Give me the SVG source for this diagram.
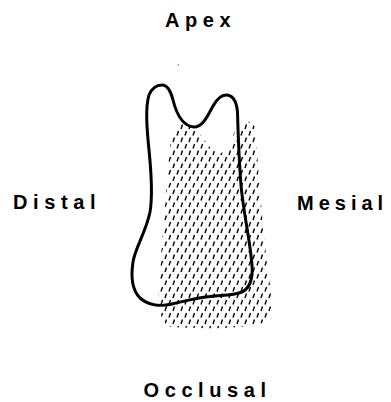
<svg xmlns="http://www.w3.org/2000/svg" width="391" height="402" viewBox="0 0 391 402">
  <style>
    .label { font-family: "Liberation Sans", Arial, sans-serif; font-weight: bold; font-size: 20px; letter-spacing: 5.6px; fill: #000; }
    .outline { fill: none; stroke: #000; stroke-width: 3; stroke-linejoin: round; stroke-linecap: round; }
    .dash { stroke: #000; stroke-width: 1.4; stroke-linecap: butt; }
  </style>
  <defs>
    <!-- slanted dash hatching -->
    <pattern id="hatch" patternUnits="userSpaceOnUse" width="8" height="13">
      <line class="dash" x1="1" y1="5.5" x2="2.5" y2="1"/>
      <line class="dash" x1="5" y1="12" x2="6.5" y2="7.5"/>
    </pattern>
  </defs>
  <rect width="391" height="402" fill="#fff"/>

  <!-- shaded (offset) region -->
  <g id="shadow">
    <path fill="url(#hatch)" d="M 177 125 C 186 122, 194 126, 200 134 C 206 142, 213 154, 221 153 C 230 151, 232 132, 240 124 C 246 119, 252 121, 255 127 C 258 160, 262 230, 270 285 C 274 305, 272 318, 262 323 C 245 329, 200 329, 172 327 C 160 325, 158 305, 159 290 C 161 250, 166 200, 168 165 C 170 145, 172 130, 177 125 Z"/>
  </g>

  <!-- tooth outline -->
  <g id="tooth">
    <path class="outline" d="M 162 85 C 168 85, 171 92, 173 100 C 176 112, 182 126, 194 127 C 203 127, 208 115, 213 106 C 217 99, 221 95, 226 95 C 233 95, 236.5 101, 237.5 112 C 238 130, 239 160, 241 185 C 243 210, 250 240, 252 265 C 253 278, 250 288, 242 292 C 232 296, 222 295, 210 296.5 C 195 298, 185 301, 172 304 C 160 307, 148 305, 140 298 C 132 290, 131 275, 133 262 C 135 248, 146 232, 150 212 C 153 195, 151 170, 149 150 C 147 130, 145 108, 149 95 C 152 88, 156 85, 162 85 Z"/>
    <circle cx="178.3" cy="65" r="0.7" fill="#555"/>
  </g>

  <g id="label-apex"><text class="label" x="165" y="27">Apex</text></g>
  <g id="label-distal"><text class="label" x="13" y="209">Distal</text></g>
  <g id="label-mesial"><text class="label" x="297" y="210" style="letter-spacing:5px">Mesial</text></g>
  <g id="label-occlusal"><text class="label" x="143.5" y="396.5">Occlusal</text></g>
</svg>
